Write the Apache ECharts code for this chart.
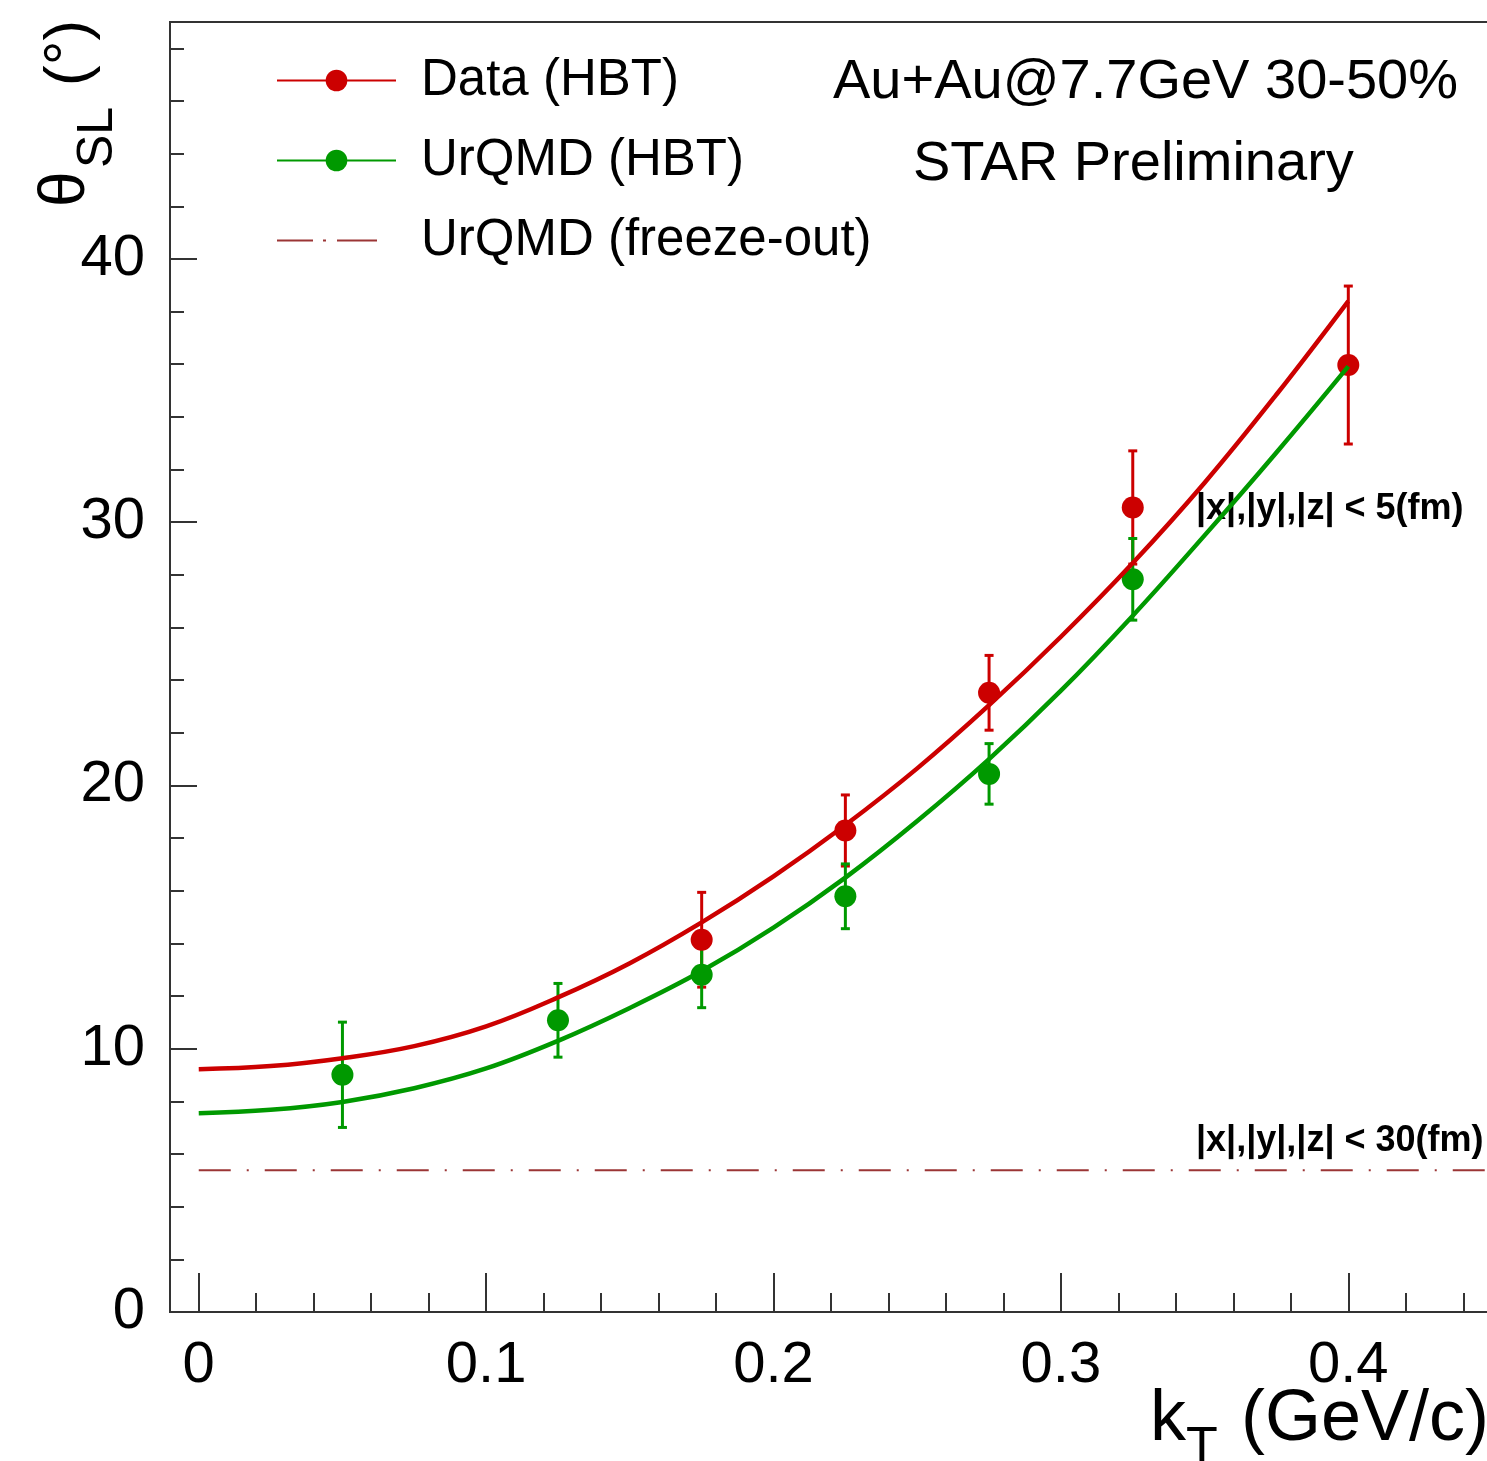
<!DOCTYPE html>
<html>
<head>
<meta charset="utf-8">
<script src="https://cdn.jsdelivr.net/npm/echarts@6/dist/echarts.min.js"></script>
<style>
html,body{margin:0;padding:0;background:#fff;}
#chart{width:1487px;height:1461px;}
</style>
</head>
<body>
<div id="chart"></div>
<script>
// ---- data ----
const kT_data = [0.175, 0.225, 0.275, 0.325, 0.4];
const theta_data = [14.14, 18.29, 23.52, 30.56, 35.97];
const err_data = [1.8, 1.35, 1.42, 2.15, 3.0];

const kT_urqmd = [0.05, 0.125, 0.175, 0.225, 0.275, 0.325];
const theta_urqmd = [9.01, 11.08, 12.81, 15.79, 20.44, 27.83];
const err_urqmd = [2.0, 1.4, 1.25, 1.23, 1.15, 1.55];

const fit_kT = [0, 0.025, 0.05, 0.075, 0.1, 0.125, 0.15, 0.175, 0.2, 0.225, 0.25, 0.275, 0.3, 0.325, 0.35, 0.375, 0.4];
const fit_data = [9.22, 9.34, 9.64, 10.1, 10.85, 11.95, 13.25, 14.8, 16.55, 18.5, 20.65, 23.05, 25.65, 28.45, 31.5, 34.85, 38.4];
const fit_urqmd = [7.55, 7.68, 7.98, 8.5, 9.25, 10.3, 11.55, 12.95, 14.6, 16.5, 18.65, 21.0, 23.6, 26.45, 29.5, 32.65, 35.92];

const freezeout_kT = [0, 0.45];
const freezeout_theta = [5.38, 5.38];

const xMajorTicks = [0, 0.1, 0.2, 0.3, 0.4];
const xMinorTicks = [0.02, 0.04, 0.06, 0.08, 0.12, 0.14, 0.16, 0.18, 0.22, 0.24, 0.26, 0.28, 0.32, 0.34, 0.36, 0.38, 0.42, 0.44];
const yMajorTicks = [0, 10, 20, 30, 40];
const yMinorTicks = [2, 4, 6, 8, 12, 14, 16, 18, 22, 24, 26, 28, 32, 34, 36, 38, 42, 44, 46, 48];

const seriesNames = ['Data (HBT)', 'UrQMD (HBT)', 'UrQMD (freeze-out)'];
const headerText = 'Au+Au@7.7GeV 30-50%';
const starText = 'STAR Preliminary';
const cut5Text = '|x|,|y|,|z| < 5(fm)';
const cut30Text = '|x|,|y|,|z| < 30(fm)';

// ---- styling ----
const RED = '#cc0000', GREEN = '#009900', BROWN = '#9b3535';
const FONT = "'Liberation Sans', Arial, Helvetica, sans-serif";
const AX = '#333333';

const chart = echarts.init(document.getElementById('chart'), null, {renderer: 'canvas'});

function zip(xs, ys) { return xs.map((x, i) => [x, ys[i]]); }
function errData(xs, ys, es) { return xs.map((x, i) => [x, ys[i] - es[i], ys[i] + es[i]]); }

function errorRenderer(color) {
  return function (params, api) {
    const x = api.value(0), lo = api.value(1), hi = api.value(2);
    const pHi = api.coord([x, hi]);
    const pLo = api.coord([x, lo]);
    const hw = 4.5;
    const st = {stroke: color, lineWidth: 3};
    return {
      type: 'group',
      children: [
        {type: 'line', shape: {x1: pHi[0], y1: pHi[1], x2: pLo[0], y2: pLo[1]}, style: st},
        {type: 'line', shape: {x1: pHi[0] - hw, y1: pHi[1], x2: pHi[0] + hw, y2: pHi[1]}, style: st},
        {type: 'line', shape: {x1: pLo[0] - hw, y1: pLo[1], x2: pLo[0] + hw, y2: pLo[1]}, style: st}
      ]
    };
  };
}

const dashDotIcon = 'path://M0,0h0.05v0.05h-0.05z M118.95,26.95h0.05v0.05h-0.05z M0,12.5h36v2h-36z M46,12.5h3v2h-3z M60,12.5h40v2h-40z';

const option = {
  backgroundColor: '#ffffff',
  animation: false,
  grid: {
    left: 170, top: 22, width: 1322, height: 1290,
    containLabel: false, outerBoundsMode: 'none',
    show: true, borderColor: AX, borderWidth: 2, backgroundColor: 'transparent'
  },
  legend: {
    orient: 'vertical',
    left: 271, top: 50,
    itemWidth: 119, itemHeight: 27, itemGap: 29,
    data: [
      {name: seriesNames[0]},
      {name: seriesNames[1]},
      {name: seriesNames[2], icon: dashDotIcon, itemStyle: {color: BROWN}}
    ],
    textStyle: {fontSize: 51, color: '#000', fontFamily: FONT, padding: [0, 0, 0, 20]}
  },
  xAxis: [
    {
      type: 'value', position: 'bottom', min: -0.01, max: 0.45,
      axisLine: {show: true, onZero: false, lineStyle: {color: AX, width: 2}},
      axisTick: {show: true, inside: true, length: 39, customValues: xMajorTicks, lineStyle: {color: AX, width: 2}},
      axisLabel: {show: true, customValues: xMajorTicks, margin: 25, fontSize: 58, color: '#000', fontFamily: FONT,
        formatter: v => String(+(+v).toFixed(2))},
      splitLine: {show: false}
    },
    {
      type: 'value', position: 'bottom', min: -0.01, max: 0.45,
      axisLine: {show: false, onZero: false},
      axisTick: {show: true, inside: true, length: 19, customValues: xMinorTicks, lineStyle: {color: AX, width: 2}},
      axisLabel: {show: false},
      splitLine: {show: false}
    }
  ],
  yAxis: [
    {
      type: 'value', position: 'left', min: 0, max: 49,
      axisLine: {show: true, onZero: false, lineStyle: {color: AX, width: 2}},
      axisTick: {show: true, inside: true, length: 27, customValues: yMajorTicks, lineStyle: {color: AX, width: 2}},
      axisLabel: {show: true, customValues: yMajorTicks, margin: 25, fontSize: 58, color: '#000', fontFamily: FONT,
        formatter: v => String(v)},
      splitLine: {show: false}
    },
    {
      type: 'value', position: 'left', min: 0, max: 49,
      axisLine: {show: false, onZero: false},
      axisTick: {show: true, inside: true, length: 14, customValues: yMinorTicks, lineStyle: {color: AX, width: 2}},
      axisLabel: {show: false},
      splitLine: {show: false}
    }
  ],
  series: [
    {
      name: seriesNames[0], type: 'line', data: zip(fit_kT, fit_data),
      smooth: 0.4, symbol: 'circle', showSymbol: false, z: 5,
      itemStyle: {color: RED}, lineStyle: {color: RED, width: 4.5}
    },
    {
      name: seriesNames[1], type: 'line', data: zip(fit_kT, fit_urqmd),
      smooth: 0.4, symbol: 'circle', showSymbol: false, z: 5,
      itemStyle: {color: GREEN}, lineStyle: {color: GREEN, width: 4.5}
    },
    {
      name: seriesNames[2], type: 'line', data: zip(freezeout_kT, freezeout_theta),
      symbol: 'none', z: 4,
      itemStyle: {color: BROWN}, lineStyle: {color: BROWN, width: 2, type: [32, 16, 2, 16], cap: 'butt'}
    },
    {
      name: seriesNames[0], type: 'custom', data: errData(kT_data, theta_data, err_data),
      encode: {x: 0, y: [1, 2]}, renderItem: errorRenderer(RED), z: 2
    },
    {
      name: seriesNames[0], type: 'scatter', data: zip(kT_data, theta_data),
      symbol: 'circle', symbolSize: 22, itemStyle: {color: RED, opacity: 1}, z: 3
    },
    {
      name: seriesNames[1], type: 'custom', data: errData(kT_urqmd, theta_urqmd, err_urqmd),
      encode: {x: 0, y: [1, 2]}, renderItem: errorRenderer(GREEN), z: 2
    },
    {
      name: seriesNames[1], type: 'scatter', data: zip(kT_urqmd, theta_urqmd),
      symbol: 'circle', symbolSize: 22, itemStyle: {color: GREEN, opacity: 1}, z: 3
    }
  ],
  graphic: [
    {type: 'text', left: 833, top: 55, style: {text: headerText, fontSize: 56, fill: '#000', fontFamily: FONT}},
    {type: 'text', left: 913, top: 137, style: {text: starText, fontSize: 56, fill: '#000', fontFamily: FONT}},
    {type: 'text', left: 1196, top: 491, style: {text: cut5Text, fontSize: 36, fontWeight: 'bold', fill: '#000', fontFamily: FONT}},
    {type: 'text', left: 1196, top: 1123, style: {text: cut30Text, fontSize: 36, fontWeight: 'bold', fill: '#000', fontFamily: FONT}},
    // x-axis title  k_T (GeV/c)
    {type: 'text', x: 1150, y: 1420, style: {text: 'k', fontSize: 72, fill: '#000', fontFamily: FONT, align: 'left', verticalAlign: 'middle'}},
    {type: 'text', x: 1186, y: 1449, style: {text: 'T', fontSize: 52, fill: '#000', fontFamily: FONT, align: 'left', verticalAlign: 'middle'}},
    {type: 'text', x: 1489, y: 1420, style: {text: '(GeV/c)', fontSize: 72, fill: '#000', fontFamily: FONT, align: 'right', verticalAlign: 'middle'}},
    // y-axis title  θ_SL (°)
    {type: 'text', x: 66, y: 207, rotation: Math.PI / 2, style: {text: 'θ', fontSize: 64, fill: '#000', fontFamily: FONT, align: 'left', verticalAlign: 'middle'}},
    {type: 'text', x: 98, y: 168, rotation: Math.PI / 2, style: {text: 'SL', fontSize: 50, fill: '#000', fontFamily: FONT, align: 'left', verticalAlign: 'middle'}},
    {type: 'text', x: 70, y: 86, rotation: Math.PI / 2, style: {text: '(°)', fontSize: 62, fill: '#000', fontFamily: FONT, align: 'left', verticalAlign: 'middle'}}
  ]
};

chart.setOption(option);
</script>
</body>
</html>
